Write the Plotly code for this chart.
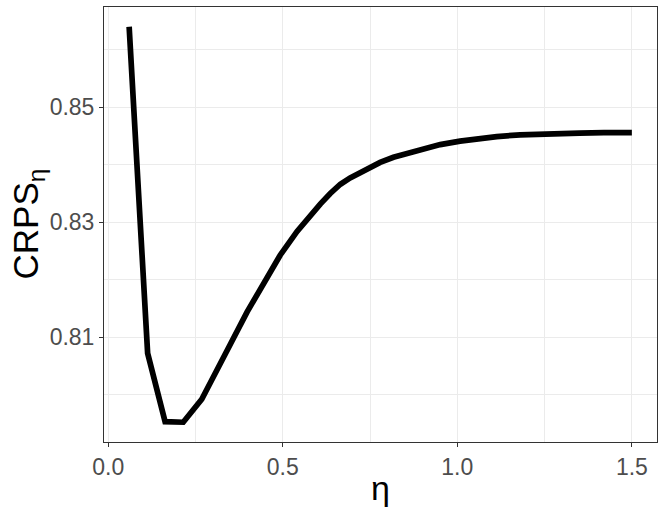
import plotly.graph_objects as go

eta = [0.06, 0.113, 0.163, 0.215, 0.268, 0.303, 0.351, 0.398, 0.446, 0.493, 0.541, 0.579,
       0.608, 0.636, 0.665, 0.693, 0.722, 0.751, 0.779, 0.817, 0.851, 0.893, 0.951, 1.008,
       1.065, 1.113, 1.18, 1.246, 1.30, 1.35, 1.42, 1.50]
crps = [0.8640, 0.8072, 0.7953, 0.7952, 0.7992, 0.8031, 0.8089, 0.8144, 0.8193, 0.8243,
        0.8284, 0.8312, 0.8332, 0.8350, 0.8366, 0.8377, 0.8387, 0.8396, 0.8404, 0.8413,
        0.8419, 0.8427, 0.8435, 0.8441, 0.8446, 0.8449, 0.8452, 0.8454, 0.8455, 0.8455,
        0.8456, 0.8456]

x_ticks = [0.0, 0.5, 1.0, 1.5]
x_labels = ["0.0", "0.5", "1.0", "1.5"]
y_ticks = [0.81, 0.83, 0.85]
y_labels = ["0.81", "0.83", "0.85"]
x_title = "η"
y_title = "CRPS<sub>η</sub>"

FONT = "Liberation Sans, Arial, sans-serif"
GRID = "#EBEBEB"
EDGE = "#333333"

fig = go.Figure(go.Scatter(x=eta, y=crps, mode="lines",
                           line=dict(color="black", width=5.7),
                           showlegend=False, hoverinfo="skip"))

xmin, xmax = min(eta), max(eta)
ymin, ymax = min(crps), max(crps)
xpad = 0.05 * (xmax - xmin)
ypad = 0.05 * (ymax - ymin)

fig.update_layout(
    width=664, height=512,
    margin=dict(l=104, r=7, t=7, b=70, autoexpand=False),
    paper_bgcolor="white", plot_bgcolor="white",
    font=dict(family=FONT),
    annotations=[
        dict(text=x_title, xref="paper", yref="paper", x=0.5, y=0,
             xanchor="center", yanchor="middle", yshift=-46, showarrow=False,
             font=dict(size=34, color="black", family=FONT)),
        dict(text=y_title, xref="paper", yref="paper", x=0, y=0.5,
             xanchor="center", yanchor="middle", xshift=-77, textangle=-90,
             showarrow=False, font=dict(size=35, color="black", family=FONT)),
    ],
)
fig.update_xaxes(
    range=[xmin - xpad, xmax + xpad], automargin=False,
    tickvals=x_ticks, ticktext=x_labels,
    tickfont=dict(size=23, color="#4D4D4D", family=FONT),
    ticks="outside", ticklen=4, tickwidth=1, tickcolor=EDGE,
    showgrid=True, gridcolor=GRID, gridwidth=1.07,
    minor=dict(tickvals=[0.25, 0.75, 1.25], showgrid=True, gridcolor=GRID, gridwidth=0.53, ticks=""),
    showline=True, linecolor=EDGE, linewidth=1, mirror=True,
    zeroline=False,
)
fig.update_yaxes(
    range=[ymin - ypad, ymax + ypad], automargin=False,
    tickvals=y_ticks, ticktext=y_labels,
    tickfont=dict(size=23, color="#4D4D4D", family=FONT),
    ticks="outside", ticklen=4, tickwidth=1, tickcolor=EDGE,
    showgrid=True, gridcolor=GRID, gridwidth=1.07,
    minor=dict(tickvals=[0.80, 0.82, 0.84, 0.86], showgrid=True, gridcolor=GRID, gridwidth=0.53, ticks=""),
    showline=True, linecolor=EDGE, linewidth=1, mirror=True,
    zeroline=False,
)

fig.write_html("out.html", config={"displayModeBar": False},
               post_script="document.body.style.margin='0';document.body.style.overflow='hidden';")
